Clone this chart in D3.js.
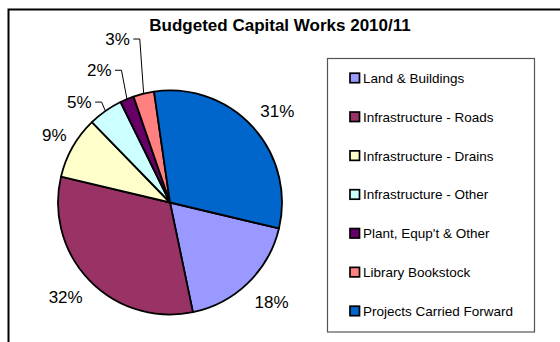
<!DOCTYPE html>
<html>
<head>
<meta charset="utf-8">
<script src="https://cdn.jsdelivr.net/npm/d3@7"></script>
<style>
  html, body { margin: 0; padding: 0; background: #fff; }
  svg { display: block; }
  text { font-family: "Liberation Sans", Arial, sans-serif; fill: #000; }
</style>
</head>
<body>
<svg id="chart" width="560" height="342"></svg>
<script>
// Budgeted capital works 2010/11, share of total (%)
const categories = [
  "Land & Buildings",
  "Infrastructure - Roads",
  "Infrastructure - Drains",
  "Infrastructure - Other",
  "Plant, Equp't & Other",
  "Library Bookstock",
  "Projects Carried Forward"
];
const shares = [18, 32, 9, 5, 2, 3, 31];
const colors = ["#9999FF", "#993366", "#FFFFCC", "#CCFFFF", "#660066", "#FF8080", "#0066CC"];
const title = "Budgeted Capital Works 2010/11";

// Layout
const W = 560, H = 342;
const cx = 170, cy = 202.5, R = 112;
const labelR = 140;
const startDeg = 103.4;

// Per-label offsets from the label ring; leader = true draws an elbow line back to the slice
const labelLayout = [
  { dx: 4,   dy: -1 },
  { dx: -4,  dy: -3 },
  { dx: 6,   dy: 1.5 },
  { dx: -10, dy: 14,  leader: true },
  { dx: -17, dy: -3,  leader: true },
  { dx: -19.6, dy: -27.4, leader: true },
  { dx: 4,   dy: 3 }
];

const svg = d3.select("#chart");

// Outer chart frame (runs off the right and bottom edges)
svg.append("rect")
  .attr("x", 8.5).attr("y", 9.5)
  .attr("width", 700).attr("height", 500)
  .attr("fill", "none").attr("stroke", "#000").attr("stroke-width", 2);

// Title
svg.append("text")
  .attr("x", 280).attr("y", 30.7)
  .attr("text-anchor", "middle")
  .attr("font-size", 17).attr("font-weight", "bold")
  .text(title);

const rad = d => d * Math.PI / 180;
const pie = d3.pie().sort(null).value(d => d)
  .startAngle(rad(startDeg)).endAngle(rad(startDeg) + 2 * Math.PI);
const arcs = pie(shares);

const arc = d3.arc().innerRadius(0).outerRadius(R);
const labelArc = d3.arc().innerRadius(labelR).outerRadius(labelR);
const edgeArc = d3.arc().innerRadius(R).outerRadius(R);

const g = svg.append("g").attr("transform", `translate(${cx},${cy})`);

g.selectAll("path.slice")
  .data(arcs)
  .join("path")
  .attr("class", "slice")
  .attr("d", arc)
  .attr("fill", (d, i) => colors[i])
  .attr("stroke", "#000")
  .attr("stroke-width", 1.8)
  .attr("stroke-linejoin", "round");

// Percentage labels
const fmt = v => d3.format(".0f")(v) + "%";
const labelFont = 17;
arcs.forEach((d, i) => {
  const [lx, ly] = labelArc.centroid(d);
  const L = labelLayout[i];
  const x = lx + L.dx, y = ly + L.dy;
  const t = g.append("text")
    .attr("x", x).attr("y", y + 6)
    .attr("text-anchor", "middle")
    .attr("font-size", labelFont)
    .text(fmt(d.data));
  if (L.leader) {
    const w = t.node().getComputedTextLength();
    const right = x + w / 2;
    const [ex, ey] = edgeArc.centroid(d);
    g.append("path")
      .attr("d", d3.line()([[right + 3.5, y], [right + 10, y], [ex, ey]]))
      .attr("fill", "none")
      .attr("stroke", "#000")
      .attr("stroke-width", 1);
  }
});

// Legend
const lg = svg.append("g");
lg.append("rect")
  .attr("x", 327.5).attr("y", 58.5)
  .attr("width", 207).attr("height", 273.5)
  .attr("fill", "#fff").attr("stroke", "#555").attr("stroke-width", 1.2);

const rowY = d3.scalePoint().domain(categories).range([78, 311]);
const items = lg.selectAll("g.item")
  .data(categories)
  .join("g")
  .attr("class", "item")
  .attr("transform", d => `translate(0,${rowY(d)})`);

items.append("rect")
  .attr("x", 350).attr("y", -4.8)
  .attr("width", 9.5).attr("height", 9.5)
  .attr("fill", (d, i) => colors[i])
  .attr("stroke", "#000").attr("stroke-width", 1.7);

items.append("text")
  .attr("x", 363).attr("y", 4.9)
  .attr("font-size", 13.5)
  .text(d => d);
</script>
</body>
</html>
